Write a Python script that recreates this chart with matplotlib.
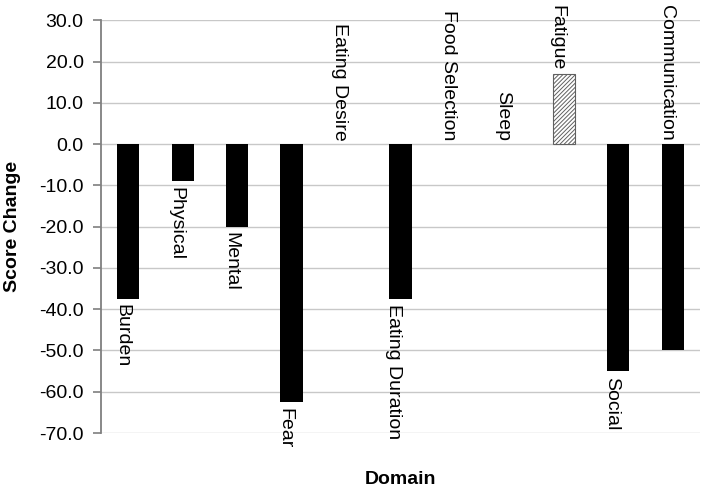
import matplotlib
matplotlib.use("Agg")
import matplotlib.pyplot as plt
import numpy as np

plt.rcParams["font.family"] = ["Liberation Sans", "DejaVu Sans"]
plt.rcParams["hatch.linewidth"] = 0.7

domains = ["Burden", "Physical", "Mental", "Fear", "Eating Desire",
           "Eating Duration", "Food Selection", "Sleep", "Fatigue",
           "Social", "Communication"]
score_change = [-37.5, -9.0, -20.0, -62.5, 0.0, -37.5, 0.0, 0.0, 17.0, -55.0, -50.0]
label_above = ["Eating Desire", "Food Selection", "Sleep", "Fatigue", "Communication"]

fig = plt.figure(figsize=(7.03, 4.88), dpi=100)
ax = fig.add_axes([101 / 703, 55 / 488, 599 / 703, 412.7 / 488])

x = np.arange(len(domains))
for i, (name, val) in enumerate(zip(domains, score_change)):
    if val > 0:
        ax.bar(i, val, width=0.41, facecolor="white", edgecolor="#606060",
               hatch="////////", linewidth=0.8, zorder=3)
    elif val < 0:
        ax.bar(i, val, width=0.41, color="black", zorder=3)

    if name in label_above:
        ax.annotate(name, (i - 0.12, max(val, 0)), xytext=(0, 2.5), textcoords="offset points",
                    rotation=270, ha="center", va="bottom", fontsize=14)
    else:
        ax.annotate(name, (i - 0.12, val), xytext=(0, -4), textcoords="offset points",
                    rotation=270, ha="center", va="top", fontsize=14)

ax.set_xlim(-0.5, len(domains) - 0.5)
ax.set_ylim(-70, 30)
ax.set_yticks(np.arange(-70, 31, 10))
ax.yaxis.set_major_formatter(matplotlib.ticker.FormatStrFormatter("%.1f"))
ax.tick_params(axis="y", labelsize=14, length=6, width=1.2, color="#7f7f7f", pad=6.5)
ax.set_xticks([])
ax.grid(axis="y", color="#c8c8c8", linewidth=1.0, zorder=0)
ax.set_axisbelow(True)

for s in ["top", "right", "bottom"]:
    ax.spines[s].set_visible(False)
ax.spines["left"].set_color("#7f7f7f")
ax.spines["left"].set_linewidth(1.3)

ax.set_ylabel("Score Change", fontsize=14, fontweight="bold")
ax.yaxis.set_label_coords(-0.133, 0.5)
ax.set_xlabel("Domain", fontsize=14, fontweight="bold")
ax.xaxis.set_label_coords(0.5, -0.092)

fig.savefig("out.png", dpi=100)
